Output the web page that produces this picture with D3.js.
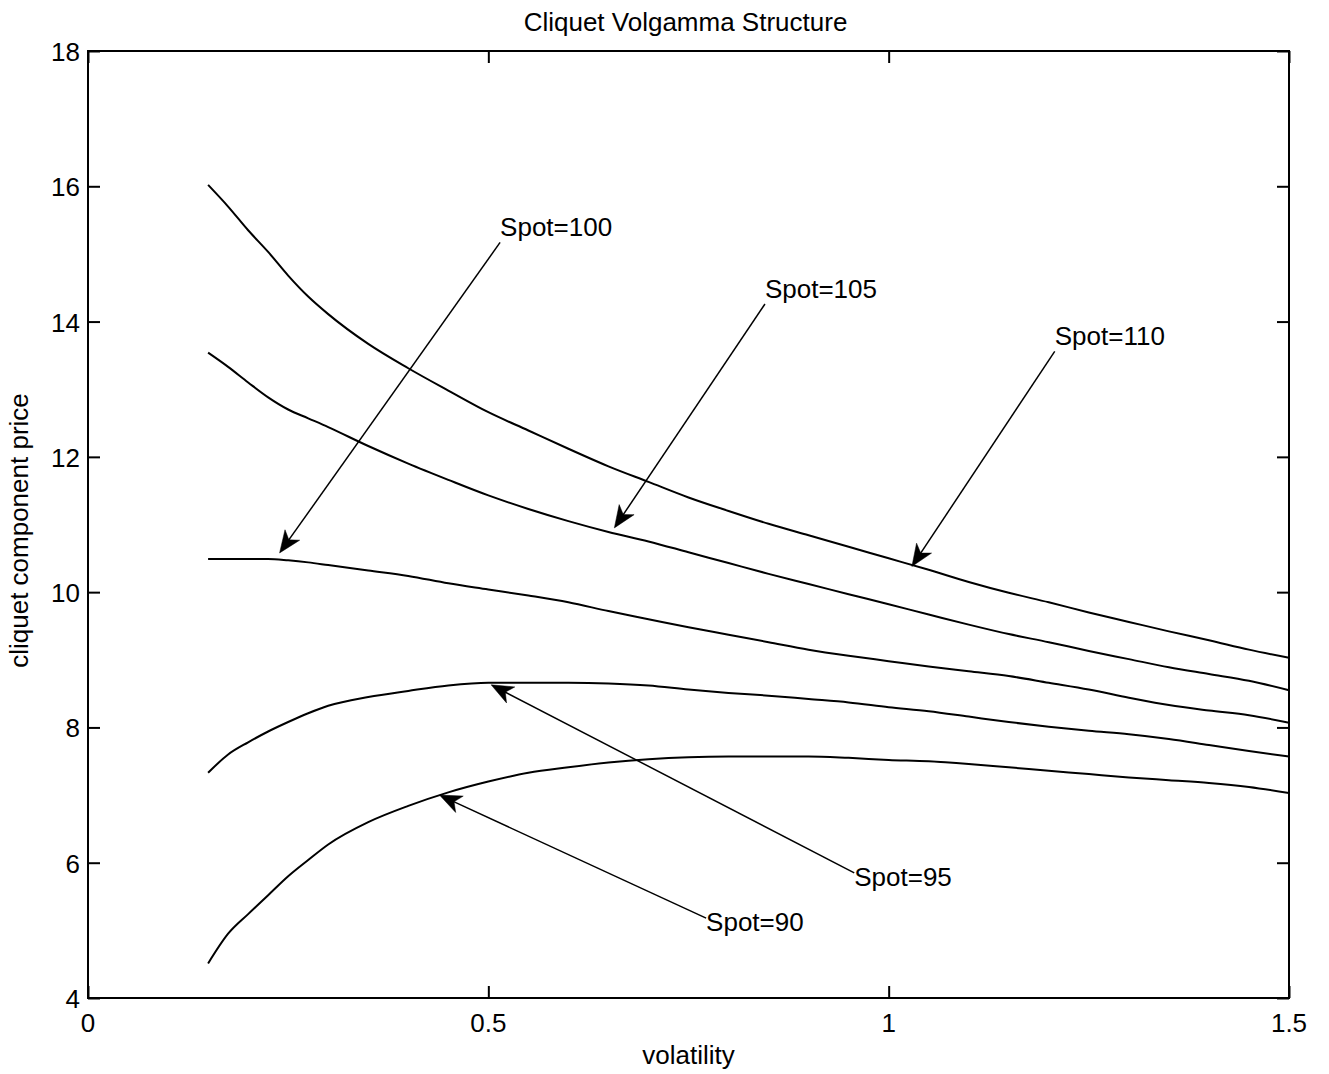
<!DOCTYPE html>
<html>
<head>
<meta charset="utf-8">
<script src="https://cdn.jsdelivr.net/npm/d3@7"></script>
<style>
  html, body { margin: 0; padding: 0; background: #fff; }
  svg { display: block; }
  text { font-family: "Liberation Sans", Arial, Helvetica, sans-serif; fill: #000; }
</style>
</head>
<body>
<svg id="chart" width="1329" height="1074"></svg>
<script>
// Volatility grid shared by all spot curves
const volatility = [0.15, 0.175, 0.2, 0.225, 0.25, 0.275, 0.3, 0.35, 0.4, 0.45, 0.5,
  0.55, 0.6, 0.65, 0.7, 0.75, 0.8, 0.85, 0.9, 0.95, 1.0,
  1.05, 1.1, 1.15, 1.2, 1.25, 1.3, 1.35, 1.4, 1.45, 1.5];

// Cliquet component price for each spot level
const spot90 = [4.51, 4.95, 5.24, 5.52, 5.80, 6.04, 6.27, 6.60, 6.84, 7.04, 7.20,
  7.33, 7.41, 7.48, 7.53, 7.56, 7.57, 7.57, 7.57, 7.55, 7.52,
  7.50, 7.46, 7.41, 7.36, 7.31, 7.26, 7.22, 7.18, 7.12, 7.03];
const spot95 = [7.33, 7.60, 7.78, 7.94, 8.08, 8.21, 8.32, 8.45, 8.54, 8.62, 8.66,
  8.66, 8.66, 8.65, 8.62, 8.56, 8.51, 8.47, 8.42, 8.37, 8.30,
  8.24, 8.16, 8.08, 8.01, 7.95, 7.90, 7.83, 7.74, 7.65, 7.57];
const spot100 = [10.49, 10.49, 10.49, 10.49, 10.47, 10.44, 10.40, 10.32, 10.24, 10.13, 10.04,
  9.95, 9.85, 9.72, 9.60, 9.48, 9.37, 9.26, 9.15, 9.06, 8.98,
  8.90, 8.83, 8.76, 8.66, 8.56, 8.44, 8.33, 8.25, 8.18, 8.07];
const spot105 = [13.54, 13.33, 13.10, 12.88, 12.70, 12.57, 12.44, 12.16, 11.90, 11.66, 11.43,
  11.23, 11.05, 10.89, 10.75, 10.59, 10.43, 10.27, 10.12, 9.97, 9.82,
  9.67, 9.52, 9.38, 9.26, 9.13, 9.01, 8.89, 8.79, 8.69, 8.55];
const spot110 = [16.02, 15.70, 15.35, 15.03, 14.68, 14.37, 14.11, 13.67, 13.31, 12.98, 12.66,
  12.39, 12.12, 11.86, 11.63, 11.40, 11.20, 11.01, 10.84, 10.67, 10.50,
  10.33, 10.15, 9.99, 9.85, 9.70, 9.56, 9.42, 9.29, 9.15, 9.03];

const seriesValues = [spot90, spot95, spot100, spot105, spot110];

// Axis ticks
const xTicks = [0, 0.5, 1, 1.5];
const xTickLabels = ["0", "0.5", "1", "1.5"];
const yTicks = [4, 6, 8, 10, 12, 14, 16, 18];

// Callout labels: text, arrow tip (vol, price), arrow tail (vol, price)
const calloutText = ["Spot=100", "Spot=105", "Spot=110", "Spot=95", "Spot=90"];
const calloutTip = [[0.2393, 10.58], [0.6574, 10.95], [1.029, 10.38], [0.5035, 8.63], [0.439, 7.0]];
const calloutTail = [[0.5147, 15.17], [0.8455, 14.26], [1.2074, 13.56], [0.957, 5.85], [0.772, 5.18]];

const chartTitle = "Cliquet Volgamma Structure";
const xAxisTitle = "volatility";
const yAxisTitle = "cliquet component price";

// Layout
const W = 1329, H = 1074;
const margin = { left: 88, top: 51, right: 40, bottom: 76 };
const plotW = W - margin.left - margin.right;   // 1201
const plotH = H - margin.top - margin.bottom;   // 947
const FONT = 26;

const svg = d3.select("#chart");
const g = svg.append("g").attr("transform", `translate(${margin.left},${margin.top})`);

const x = d3.scaleLinear().domain([0, 1.5]).range([0, plotW]);
const y = d3.scaleLinear().domain([4, 18]).range([plotH, 0]);

// Curves
const line = d3.line()
  .x(d => x(d[0]))
  .y(d => y(d[1]))
  .curve(d3.curveMonotoneX);

g.selectAll("path.curve")
  .data(seriesValues)
  .join("path")
  .attr("class", "curve")
  .attr("d", vals => line(volatility.map((v, i) => [v, vals[i]])))
  .attr("fill", "none")
  .attr("stroke", "#000")
  .attr("stroke-width", 2)
  .attr("stroke-linejoin", "round");

// Axes with inward ticks on all four sides
const tickLen = 12;
const bottomAxis = d3.axisBottom(x).tickValues(xTicks).tickSize(-tickLen).tickFormat("");
const topAxis = d3.axisTop(x).tickValues(xTicks).tickSize(-tickLen).tickFormat("");
const leftAxis = d3.axisLeft(y).tickValues(yTicks).tickSize(-tickLen).tickFormat("");
const rightAxis = d3.axisRight(y).tickValues(yTicks).tickSize(-tickLen).tickFormat("");

function styleAxis(sel) {
  sel.select(".domain").remove();
  sel.selectAll(".tick line").attr("stroke", "#000").attr("stroke-width", 2);
}
g.append("g").attr("transform", `translate(0,${plotH})`).call(bottomAxis).call(styleAxis);
g.append("g").call(topAxis).call(styleAxis);
g.append("g").call(leftAxis).call(styleAxis);
g.append("g").attr("transform", `translate(${plotW},0)`).call(rightAxis).call(styleAxis);

// Frame
g.append("rect")
  .attr("x", 0).attr("y", 0)
  .attr("width", plotW).attr("height", plotH)
  .attr("fill", "none")
  .attr("stroke", "#000")
  .attr("stroke-width", 2);

// Tick labels
g.selectAll("text.xtick")
  .data(xTicks)
  .join("text")
  .attr("class", "xtick")
  .attr("x", d => x(d))
  .attr("y", plotH + 34)
  .attr("text-anchor", "middle")
  .attr("font-size", FONT)
  .text((d, i) => xTickLabels[i]);

g.selectAll("text.ytick")
  .data(yTicks)
  .join("text")
  .attr("class", "ytick")
  .attr("x", -8)
  .attr("y", d => y(d) + 10)
  .attr("text-anchor", "end")
  .attr("font-size", FONT)
  .text(d => d);

// Titles
svg.append("text")
  .attr("x", margin.left + plotW / 2 - 3)
  .attr("y", 31)
  .attr("text-anchor", "middle")
  .attr("font-size", FONT)
  .text(chartTitle);

svg.append("text")
  .attr("x", margin.left + plotW / 2)
  .attr("y", 1064)
  .attr("text-anchor", "middle")
  .attr("font-size", FONT)
  .text(xAxisTitle);

svg.append("text")
  .attr("transform", `translate(28,${margin.top + plotH / 2 + 6}) rotate(-90)`)
  .attr("text-anchor", "middle")
  .attr("font-size", FONT)
  .text(yAxisTitle);

// Callout arrows with notched (vback) heads
const headLen = 22, headHalf = 9, notch = 16;
calloutText.forEach((label, i) => {
  const tx = x(calloutTip[i][0]), ty = y(calloutTip[i][1]);
  const sx = x(calloutTail[i][0]), sy = y(calloutTail[i][1]);
  const ang = Math.atan2(ty - sy, tx - sx);
  const ca = Math.cos(ang), sa = Math.sin(ang);
  const pt = (u, v) => [tx + u * ca - v * sa, ty + u * sa + v * ca];

  // shaft stops inside the notch
  const shaftEnd = pt(-notch + 1, 0);
  g.append("line")
    .attr("x1", sx).attr("y1", sy)
    .attr("x2", shaftEnd[0]).attr("y2", shaftEnd[1])
    .attr("stroke", "#000")
    .attr("stroke-width", 1.5);

  const head = [pt(0, 0), pt(-headLen, -headHalf), pt(-notch, 0), pt(-headLen, headHalf)];
  g.append("path")
    .attr("d", "M" + head.map(p => p.join(",")).join("L") + "Z")
    .attr("fill", "#000")
    .attr("stroke", "#000")
    .attr("stroke-width", 0.5)
    .attr("stroke-linejoin", "miter");

  // label sits at the tail: above it when the arrow points down, beside it otherwise
  const pointsDown = ty > sy;
  g.append("text")
    .attr("x", sx)
    .attr("y", pointsDown ? sy - 6 : sy + 13)
    .attr("text-anchor", "start")
    .attr("font-size", FONT)
    .text(label);
});
</script>
</body>
</html>
